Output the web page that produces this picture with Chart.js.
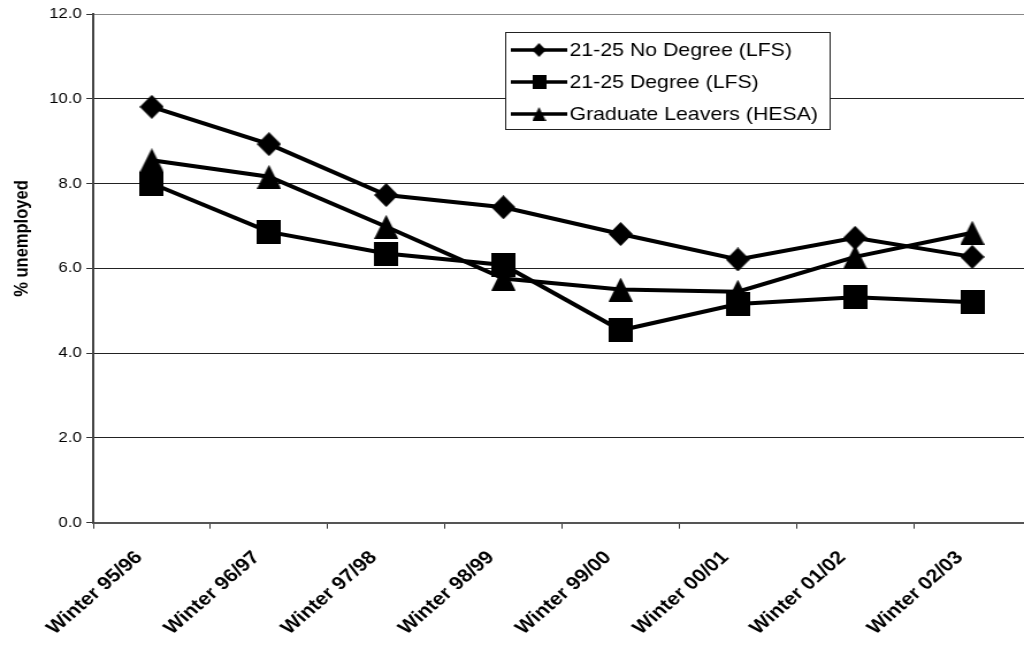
<!DOCTYPE html>
<html>
<head>
<meta charset="utf-8">
<script src="https://cdn.jsdelivr.net/npm/chart.js@4.4.1/dist/chart.umd.min.js"></script>
<style>
  html, body { margin: 0; padding: 0; background: #fff; overflow: hidden; width: 1024px; height: 648px; }
  #chart { position: absolute; left: 0; top: 0; }
</style>
</head>
<body>
<canvas id="chart" width="910" height="648" style="width:1046.5px;height:648px"></canvas>
<script>
// Unemployment rate of young people, by winter period
const periods = ['Winter 95/96', 'Winter 96/97', 'Winter 97/98', 'Winter 98/99',
                 'Winter 99/00', 'Winter 00/01', 'Winter 01/02', 'Winter 02/03'];
const noDegree = [9.81, 8.93, 7.73, 7.44, 6.81, 6.21, 6.72, 6.27];
const degree = [8.00, 6.86, 6.35, 6.08, 4.54, 5.16, 5.32, 5.20];
const hesaLeavers = [8.55, 8.16, 6.98, 5.76, 5.50, 5.45, 6.27, 6.84];
const seriesNames = ['21-25 No Degree (LFS)', '21-25 Degree (LFS)', 'Graduate Leavers (HESA)'];
const yTicks = [0, 2, 4, 6, 8, 10, 12];
const yTitle = '% unemployed';

const FONT = '"Liberation Sans", Arial, Helvetica, sans-serif';

function markerCanvas(shape, w, h) {
  const c = document.createElement('canvas');
  c.width = w; c.height = h;
  const g = c.getContext('2d');
  g.fillStyle = '#000';
  g.beginPath();
  if (shape === 'diamond') {
    g.moveTo(w / 2, 0); g.lineTo(w, h / 2); g.lineTo(w / 2, h); g.lineTo(0, h / 2);
  } else if (shape === 'square') {
    g.rect(0, 0, w, h);
  } else {
    g.moveTo(w / 2, 0); g.lineTo(w, h); g.lineTo(0, h);
  }
  g.closePath();
  g.fill();
  return c;
}

const shapes = ['diamond', 'square', 'triangle'];
const plotMarkers = shapes.map(s => markerCanvas(s, 21, 24));
const keyMarkers = shapes.map(s => markerCanvas(s, 12, 14));

// Boxed key inside the plot plus the rotated value-axis caption
const keyPlugin = {
  id: 'boxedKey',
  afterDraw(chart) {
    const ctx = chart.ctx;
    ctx.save();
    const box = { left: 439.5, top: 32.5, right: 721.5, bottom: 129.5 };
    ctx.fillStyle = '#fff';
    ctx.fillRect(box.left, box.top, box.right - box.left, box.bottom - box.top);
    ctx.strokeStyle = '#222';
    ctx.lineWidth = 1;
    ctx.strokeRect(box.left, box.top, box.right - box.left, box.bottom - box.top);
    const rows = [50, 82, 114];
    chart.data.datasets.forEach((ds, i) => {
      const y = rows[i];
      ctx.strokeStyle = '#000';
      ctx.lineWidth = 3.5;
      ctx.beginPath();
      ctx.moveTo(444, y);
      ctx.lineTo(493, y);
      ctx.stroke();
      const m = keyMarkers[i];
      ctx.drawImage(m, 468.5 - m.width / 2, y - m.height / 2);
      ctx.fillStyle = '#000';
      ctx.font = '18.5px ' + FONT;
      ctx.textAlign = 'left';
      ctx.textBaseline = 'middle';
      ctx.fillText(ds.label, 495, y + 1);
    });
    ctx.translate(19.6, 238.5);
    ctx.rotate(-Math.PI / 2);
    ctx.font = 'bold 16.5px ' + FONT;
    ctx.textAlign = 'center';
    ctx.textBaseline = 'middle';
    ctx.fillText(yTitle, 0, 0);
    ctx.restore();
  }
};

const seriesValues = [noDegree, degree, hesaLeavers];

new Chart(document.getElementById('chart'), {
  type: 'line',
  data: {
    labels: periods,
    datasets: seriesValues.map((vals, i) => ({
      label: seriesNames[i],
      data: vals,
      borderColor: '#000',
      backgroundColor: '#000',
      borderWidth: 4,
      pointStyle: plotMarkers[i],
      pointRadius: 10,
      pointHoverRadius: 10,
      fill: false,
      tension: 0,
      order: 2 - i
    }))
  },
  plugins: [keyPlugin],
  options: {
    responsive: false,
    devicePixelRatio: 1,
    animation: false,
    events: [],
    layout: { padding: { top: 14, right: 4, left: 0, bottom: 0 } },
    plugins: { legend: { display: false }, tooltip: { enabled: false }, title: { display: false } },
    scales: {
      x: {
        type: 'category',
        offset: true,
        grid: { display: true, offset: true, drawOnChartArea: false, drawTicks: true, tickLength: 6, color: '#333', lineWidth: 1 },
        border: { display: true, color: '#555', width: 2 },
        ticks: {
          autoSkip: false, minRotation: 45, maxRotation: 45, padding: 18, labelOffset: -11,
          color: '#000', font: { family: FONT, size: 18.5, weight: 'bold' }
        },
        afterFit(scale) { scale.height = 125.3; }
      },
      y: {
        min: 0, max: 12,
        afterBuildTicks(scale) { scale.ticks = yTicks.map(v => ({ value: v })); },
        ticks: { padding: 4, color: '#000', font: { family: FONT, size: 14.5 }, callback: v => Number(v).toFixed(1) },
        grid: {
          color: c => (c.tick && c.tick.value === 12 ? '#888' : '#222'),
          lineWidth: 1, tickLength: 6, drawTicks: true, tickColor: '#333'
        },
        border: { display: true, color: '#444', width: 2 },
        afterFit(scale) { scale.width = 81; }
      }
    }
  }
});
</script>
</body>
</html>
